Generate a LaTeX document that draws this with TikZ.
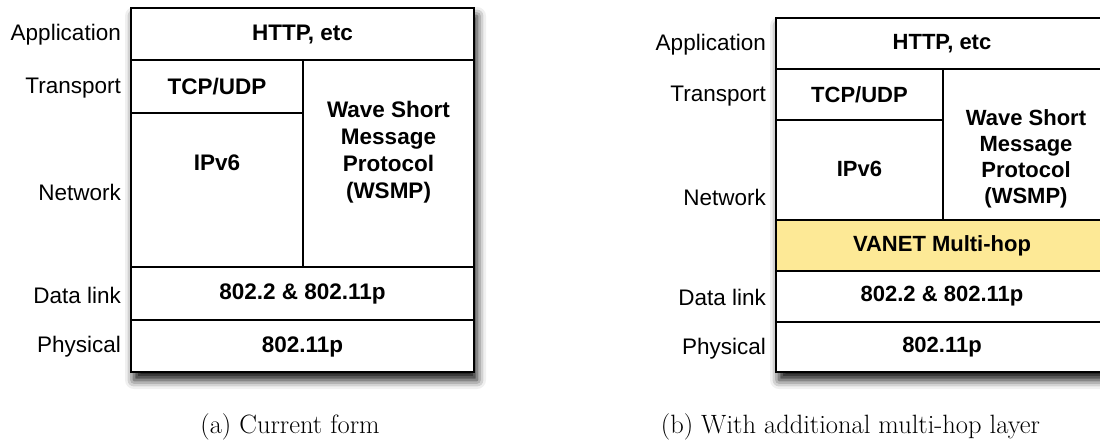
\documentclass[tikz,border=0pt]{standalone}
\usepackage{fontspec}
\newfontfamily\arialfont{Liberation Sans}
\usetikzlibrary{shadows.blur}
\definecolor{vanetyellow}{RGB}{253,233,150}
\tikzset{
  layerlbl/.style={font=\arialfont\fontsize{22.5}{26}\selectfont, anchor=east, inner sep=0pt},
  celltxt/.style={font=\arialfont\bfseries\fontsize{22.5}{27}\selectfont, align=center, inner sep=0pt},
  celltxtb/.style={font=\arialfont\bfseries\fontsize{22}{26}\selectfont, align=center, inner sep=0pt},
  cellline/.style={line width=1.6pt, black},
  outerbox/.style={line width=1.8pt, fill=white, blur shadow={shadow xshift=3pt, shadow yshift=-8pt, shadow blur radius=9pt, shadow opacity=95}},
  captxt/.style={font=\fontsize{26.5}{30}\selectfont, inner sep=0pt}
}
\begin{document}
\begin{tikzpicture}[x=1pt,y=-1pt]
\useasboundingbox (0,0) rectangle (1100,442);
% ---------- left stack ----------
\draw[outerbox] (131,8) rectangle (474,372);
\draw[cellline] (131,60) -- (474,60);
\draw[cellline] (131,113) -- (303,113);
\draw[cellline] (303,60) -- (303,267);
\draw[cellline] (131,267) -- (474,267);
\draw[cellline] (131,320) -- (474,320);
\node[celltxt] (lhttp) at (302.5,34.5) {HTTP, etc};
\node[celltxt] (ltcp) at (217,87) {TCP/UDP};
\node[celltxt] (lip) at (217,163) {IPv6};
\node[celltxt] (lwsmp) at (388.5,152) {Wave Short\\Message\\Protocol\\(WSMP)};
\node[celltxt] (ldl) at (302.5,294) {802.2 \& 802.11p};
\node[celltxt] (lph) at (302.5,346.5) {802.11p};
\node[layerlbl] (la) at (121,35) {Application};
\node[layerlbl] (lt) at (121,88) {Transport};
\node[layerlbl] (ln) at (121,192) {Network};
\node[layerlbl] (ld) at (121,295) {Data link};
\node[layerlbl] (lp) at (121,347) {Physical};
\node[captxt] (capa) at (290,427) {(a) Current form};
% ---------- right stack ----------
\draw[outerbox] (776,18) rectangle (1109,372);
\fill[vanetyellow] (776,220) rectangle (1109,271);
\draw[cellline] (776,69) -- (1109,69);
\draw[cellline] (776,120) -- (943,120);
\draw[cellline] (943,69) -- (943,220);
\draw[cellline] (776,220) -- (1109,220);
\draw[cellline] (776,271) -- (1109,271);
\draw[cellline] (776,322) -- (1109,322);
\draw[line width=1.8pt] (776,18) rectangle (1109,372);
\node[celltxtb] (rhttp) at (942,43.5) {HTTP, etc};
\node[celltxtb] (rtcp) at (859.5,95) {TCP/UDP};
\node[celltxtb] (rip) at (859.5,169) {IPv6};
\node[celltxtb] (rwsmp) at (1026,158.5) {Wave Short\\Message\\Protocol\\(WSMP)};
\node[celltxtb] (rvanet) at (942,246) {VANET Multi-hop};
\node[celltxtb] (rdl) at (942,296.5) {802.2 \& 802.11p};
\node[celltxtb] (rph) at (942,347.5) {802.11p};
\node[layerlbl] (ra) at (766,44.5) {Application};
\node[layerlbl] (rt) at (766,96.5) {Transport};
\node[layerlbl] (rn) at (766,197) {Network};
\node[layerlbl] (rd) at (766,297.5) {Data link};
\node[layerlbl] (rp) at (766,348.5) {Physical};
\node[captxt] (capb) at (850.5,427) {(b) With additional multi-hop layer};
\end{tikzpicture}
\end{document}
